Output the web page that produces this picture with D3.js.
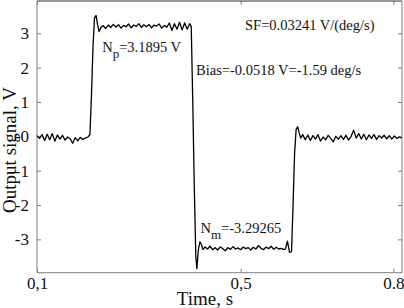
<!DOCTYPE html>
<html><head><meta charset="utf-8">
<script src="https://cdn.jsdelivr.net/npm/d3@7/dist/d3.min.js"></script>
<style>html,body{margin:0;padding:0;background:#fff;} svg{display:block;}
svg text{font-family:"Liberation Serif","DejaVu Serif",serif;}</style>
</head><body><svg id="c" width="404" height="308"></svg>
<script>
// [time (s), output signal (V)]
const signal = [
 [0.100,0.02],[0.105,-0.06],[0.110,0.05],[0.115,-0.12],[0.120,0.06],[0.125,-0.10],[0.130,0.08],
 [0.135,-0.14],[0.140,0.04],[0.145,-0.08],[0.150,0.03],[0.155,-0.11],[0.160,-0.02],[0.165,-0.07],
 [0.170,-0.20],[0.175,-0.04],[0.180,-0.13],[0.185,-0.03],[0.190,-0.09],[0.195,-0.05],[0.200,-0.02],
 [0.204,0.05],[0.207,1.2],[0.210,2.6],[0.213,3.45],[0.216,3.52],[0.219,3.25],[0.222,3.05],[0.226,3.18],[0.230,3.22],
 [0.235,3.14],[0.240,3.24],[0.245,3.17],[0.250,3.26],[0.255,3.18],[0.260,3.25],[0.265,3.15],[0.270,3.23],
 [0.275,3.19],[0.280,3.27],[0.285,3.16],[0.290,3.24],[0.295,3.20],[0.300,3.28],[0.305,3.17],[0.310,3.25],
 [0.315,3.19],[0.320,3.26],[0.325,3.16],[0.330,3.24],[0.335,3.21],[0.340,3.27],[0.345,3.15],[0.350,3.23],
 [0.355,3.18],[0.360,3.30],[0.365,3.08],[0.370,3.28],[0.375,3.12],[0.380,3.32],[0.385,3.10],[0.390,3.30],
 [0.395,3.12],[0.400,3.28],
 [0.403,3.20],[0.406,1.0],[0.409,-1.5],[0.412,-3.5],[0.414,-3.85],[0.417,-3.3],[0.420,-3.07],[0.423,-3.15],[0.426,-3.30],[0.430,-3.22],
 [0.435,-3.28],[0.440,-3.20],[0.445,-3.30],[0.450,-3.24],[0.455,-3.31],[0.460,-3.22],[0.465,-3.27],[0.470,-3.33],
 [0.475,-3.24],[0.480,-3.29],[0.485,-3.21],[0.490,-3.28],[0.495,-3.25],[0.500,-3.30],[0.505,-3.22],[0.510,-3.27],
 [0.515,-3.24],[0.520,-3.31],[0.525,-3.23],[0.530,-3.28],[0.535,-3.18],[0.540,-3.26],[0.545,-3.30],[0.550,-3.22],
 [0.555,-3.27],[0.560,-3.20],[0.565,-3.29],[0.570,-3.23],[0.575,-3.28],[0.580,-3.26],[0.585,-3.30],
 [0.588,-3.28],[0.592,-3.05],[0.596,-3.38],[0.600,-3.36],[0.603,-2.0],[0.606,-0.5],[0.609,0.2],[0.612,0.28],
 [0.615,0.10],[0.618,-0.05],[0.622,0.05],
 [0.627,-0.10],[0.632,0.04],[0.637,-0.12],[0.642,0.02],[0.647,-0.08],[0.652,0.05],[0.657,-0.14],[0.662,-0.02],
 [0.667,-0.10],[0.672,0.03],[0.677,-0.06],[0.682,-0.16],[0.687,0.00],[0.692,-0.08],[0.697,0.02],[0.702,-0.09],
 [0.707,0.03],[0.712,-0.11],[0.717,0.00],[0.722,0.18],[0.727,-0.05],[0.732,0.08],[0.737,-0.08],[0.742,0.06],
 [0.747,-0.10],[0.752,0.04],[0.757,-0.06],[0.762,0.05],[0.767,-0.09],[0.772,0.02],[0.777,-0.05],[0.782,0.03],
 [0.787,-0.07],[0.792,0.02],[0.797,-0.08],[0.802,0.01],[0.807,-0.06],[0.812,-0.02],[0.816,-0.05]
];
const xTickValues = [0.1, 0.5, 0.8];
const xTickLabels = ["0,1", "0,5", "0.8"];
const yTickValues = [3, 2, 1, 0, -1, -2, -3];
const yTickLabels = ["3", "2", "1", "-0", "-1", "-2", "-3"];
const xTitle = "Time, s";
const yTitle = "Output signal, V";
const sfText = "SF=0.03241 V/(deg/s)";
const biasText = "Bias=-0.0518 V=-1.59 deg/s";
const npLabel = ["N", "p", "=3.1895 V"];
const nmLabel = ["N", "m", "=-3.29265"];

const svg = d3.select("#c");
const L = 37, R = 402, T = 1, B = 272.7;
const x = d3.scaleLinear().domain([0.1, 0.817]).range([L, R]);
const y = d3.scaleLinear().domain([-3.97, 3.94]).range([B, T]);
const axCol = "#808080";

function styleAxis(g, showText) {
  g.attr("font-family", null);
  g.select(".domain").remove();
  g.selectAll(".tick line").attr("stroke", axCol).attr("stroke-width", 1);
  g.selectAll(".tick text").attr("font-size", 17).attr("fill", "#111");
  if (!showText) g.selectAll(".tick text").remove();
}
// bottom
svg.append("g").attr("transform", `translate(0,${B})`)
  .call(d3.axisBottom(x).tickValues(xTickValues).tickSizeInner(-4).tickSizeOuter(0).tickPadding(4)
    .tickFormat((d, i) => xTickLabels[i]))
  .call(g => styleAxis(g, true));
svg.append("g").attr("transform", `translate(0,${T})`)
  .call(d3.axisTop(x).tickValues(xTickValues).tickSizeInner(-4).tickSizeOuter(0))
  .call(g => styleAxis(g, false));
svg.append("g").attr("transform", `translate(${L},0)`)
  .call(d3.axisLeft(y).tickValues(yTickValues).tickSizeInner(-4).tickSizeOuter(0).tickPadding(8)
    .tickFormat((d, i) => yTickLabels[i]))
  .call(g => styleAxis(g, true));
svg.append("g").attr("transform", `translate(${R},0)`)
  .call(d3.axisRight(y).tickValues(yTickValues).tickSizeInner(-4).tickSizeOuter(0))
  .call(g => styleAxis(g, false));

// frame
svg.append("line").attr("x1", L).attr("x2", L).attr("y1", T).attr("y2", B).attr("stroke", axCol);
svg.append("line").attr("x1", R).attr("x2", R).attr("y1", T).attr("y2", B).attr("stroke", axCol);
svg.append("line").attr("x1", L).attr("x2", R).attr("y1", B).attr("y2", B).attr("stroke", axCol);
svg.append("line").attr("x1", L).attr("x2", R).attr("y1", T).attr("y2", T).attr("stroke", "#333");

// signal
svg.append("path").datum(signal)
  .attr("fill", "none").attr("stroke", "#000").attr("stroke-width", 1.3).attr("stroke-linejoin", "round")
  .attr("d", d3.line().x(d => x(d[0])).y(d => y(d[1])));

// titles
svg.append("text").attr("x", 205).attr("y", 305).attr("text-anchor", "middle")
  .attr("font-size", 19).attr("fill", "#111").text(xTitle);
svg.append("text").attr("transform", "translate(16,150) rotate(-90)").attr("text-anchor", "middle")
  .attr("font-size", 19).attr("fill", "#111").text(yTitle);

// annotations
svg.append("text").attr("x", 245).attr("y", 30).attr("font-size", 14.5)
  .attr("fill", "#111").text(sfText);
svg.append("text").attr("x", 196).attr("y", 75).attr("font-size", 14.5)
  .attr("fill", "#111").text(biasText);
function subLabel(px, py, parts) {
  const t = svg.append("text").attr("x", px).attr("y", py)
    .attr("font-size", 14.5).attr("fill", "#111");
  t.append("tspan").text(parts[0]);
  t.append("tspan").attr("dy", 6).attr("font-size", 13).text(parts[1]);
  t.append("tspan").attr("dy", -6).text(parts[2]);
}
subLabel(x(0.228), 52, npLabel);
subLabel(x(0.421), 233, nmLabel);
</script></body></html>
